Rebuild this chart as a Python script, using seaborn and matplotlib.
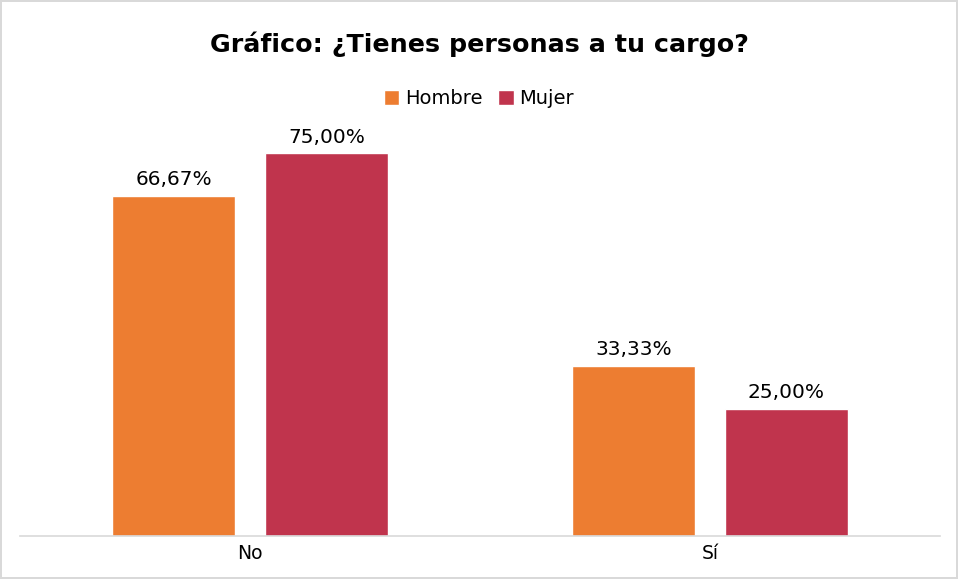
import matplotlib
matplotlib.use("Agg")
import matplotlib.pyplot as plt
import seaborn as sns
import pandas as pd

categories = ["No", "Sí"]
series = ["Hombre", "Mujer"]
hombre = [66.67, 33.33]
mujer = [75.00, 25.00]
colors = ["#ED7D31", "#C0344D"]

df = pd.DataFrame({
    "cat": categories * 2,
    "serie": [series[0]] * 2 + [series[1]] * 2,
    "val": hombre + mujer,
})

sns.set_theme(style="white")
plt.rcParams["font.family"] = ["DejaVu Sans"]

fig = plt.figure(figsize=(9.58, 5.79), dpi=100, linewidth=1.5, edgecolor="#d9d9d9")
ax = fig.add_axes([20/958, 43/579, 920/958, 408/579])

sns.barplot(data=df, x="cat", y="val", hue="serie", palette=colors, width=0.665,
            gap=0.2, ax=ax, saturation=1, legend=True)

for cont in ax.containers:
    ax.bar_label(cont, labels=[f"{v:.2f}%".replace(".", ",") for v in cont.datavalues],
                 padding=5, fontsize=14.5, color="#000000")

ax.set_xlim(-0.5, 1.5)
ax.set_ylim(0, 80)
ax.set_yticks([])
ax.set_xlabel("")
ax.set_ylabel("")
for s in ["top", "right", "left"]:
    ax.spines[s].set_visible(False)
ax.spines["bottom"].set_color("#d9d9d9")
ax.spines["bottom"].set_linewidth(1.2)
ax.tick_params(axis="x", labelsize=13.5, colors="#000000", length=0, pad=6)

leg = ax.legend(loc="center", bbox_to_anchor=(0.5, 1 - 99/579), bbox_transform=fig.transFigure,
                ncol=2, frameon=False, fontsize=14, handlelength=0.8, handleheight=0.8,
                handletextpad=0.3, columnspacing=0.8)
for t in leg.get_texts():
    t.set_color("#000000")

fig.text(0.5, 1 - 44/579, "Gráfico: ¿Tienes personas a tu cargo?", ha="center", va="center",
         fontsize=18.3, fontweight="bold", color="#000000")

fig.savefig("out.png", dpi=100)
